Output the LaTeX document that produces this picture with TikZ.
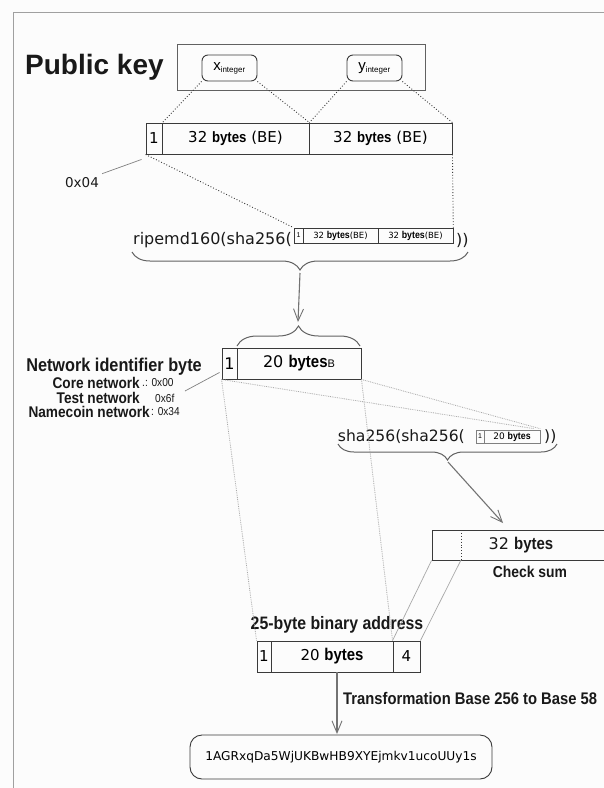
\documentclass[tikz,border=0pt]{standalone}
\usepackage{fontspec}
\setmainfont{DejaVu Sans}
\newfontfamily\lab[FakeStretch=0.88]{Liberation Sans}
\newfontfamily\arialf{Liberation Sans}
\usetikzlibrary{decorations.pathreplacing,arrows.meta,calc}
\newcommand\fsz[1]{\fontsize{#1}{#1}\selectfont}
\newcommand\byt{{\lab\bfseries bytes}}
\definecolor{boxc}{HTML}{3A3A3A}
\definecolor{lite}{HTML}{A8A8A8}
\definecolor{frame}{HTML}{A0A0A0}
\tikzset{
  cell/.style={draw=boxc, line width=0.9pt, inner sep=0pt, anchor=center, text=black},
  pill/.style={cell, rounded corners=6pt},
  dots/.style={draw=boxc, dotted, line width=0.9pt},
  litedots/.style={draw=lite, densely dotted, line width=0.8pt},
  liteline/.style={draw=lite, line width=0.7pt},
  leader/.style={draw=gray, line width=0.7pt},
  bracey/.style={draw=boxc!80, line width=1pt, decorate, decoration={brace, amplitude=#1}},
  arr/.style={draw=gray!90!black, line width=1.1pt, -{Straight Barb[length=12pt,width=10pt,line width=0.9pt]}},
  lbl/.style={inner sep=0pt, text=black!90},
}
\begin{document}
\begin{tikzpicture}[x=1pt,y=-1pt]
\fill[white!98!gray] (0,0) rectangle (604,788);
\useasboundingbox (0,0) rectangle (604,788);
\draw[frame, line width=1pt] (13,790) -- (13,12) -- (606,12);

% Public key
\node[lbl, anchor=west] (pktitle) at (25,67) {\arialf\bfseries\fsz{28}Public key};
\node[cell, minimum width=248, minimum height=46, draw=boxc!80] (pk) at (301,67) {};
\node[pill, minimum width=55, minimum height=26] (xint) at (229.5,68) {\arialf\fsz{15}x\textsubscript{\fsz{8}integer}};
\node[pill, minimum width=55, minimum height=26] (yint) at (374.5,68) {\arialf\fsz{15}y\textsubscript{\fsz{8}integer}};

% row of 65 bytes
\node[cell, minimum width=16, minimum height=31] (c1) at (154,138.5) {\fsz{15}1};
\node[cell, minimum width=147, minimum height=31] (c2) at (235.5,138.5) {\fsz{15}32 \byt{} (BE)};
\node[cell, minimum width=143, minimum height=31] (c3) at (380.5,138.5) {\fsz{15}32 \byt{} (BE)};

\draw[dots] (xint.south west) -- (c1.north east);
\draw[dots] (xint.south east) -- (c2.north east);
\draw[dots] (yint.south west) -- (c2.north east);
\draw[dots] (yint.south east) -- (c3.north east);

\node[lbl] (o4) at (82,183) {\fsz{13.5}0x04};
\draw[leader] ($(o4.north east)+(3,-4)$) -- ($(c1.south west)+(-4,5)$);

% ripemd160
\node[lbl, anchor=east] (rip) at (292,240) {\fsz{16}ripemd160(sha256(};
\node[cell, minimum width=9, minimum height=15, line width=0.6pt] (s1) at (298.5,235.5) {\arialf\fsz{7}1};
\node[cell, minimum width=75, minimum height=15, line width=0.6pt] (s2) at (340.5,235.5) {\fsz{8.5}32 {\lab\bfseries\fsz{10}bytes}(BE)};
\node[cell, minimum width=75, minimum height=15, line width=0.6pt] (s3) at (415.5,235.5) {\fsz{8.5}32 {\lab\bfseries\fsz{10}bytes}(BE)};
\node[lbl, anchor=west] (ripc) at (456,240) {\fsz{16}))};

\draw[dots] (c1.south west) -- (s1.north west);
\draw[dots] (c3.south east) -- (s3.north east);

\draw[bracey=18pt] (468,252) -- (132,252);
\coordinate (b1tip) at (300,273);

% 20-byte hash
\draw[bracey=20pt] (237,346) -- (360,346);
\coordinate (b2tip) at (298,322);
\draw[arr] (b1tip) -- (b2tip);

\node[cell, minimum width=15, minimum height=31] (n1) at (229.5,363.5) {\fsz{16}1};
\node[cell, minimum width=124, minimum height=31] (n2) at (299,363.5) {\fsz{16}20 {\lab\bfseries\fsz{17}bytes}{\arialf\fsz{11}B}};

% network identifier labels
\node[lbl] (netid) at (114,367) {\lab\bfseries\fsz{18.5}Network identifier byte};
\node[lbl, anchor=east] (core) at (140,383) {\lab\bfseries\fsz{15.5}Core network};
\node[lbl, anchor=west] (corev) at (142,383) {\lab\fsz{11.5}.: 0x00};
\node[lbl, anchor=east] (test) at (140,398) {\lab\bfseries\fsz{15.5}Test network};
\node[lbl, anchor=west] (testv) at (155,398) {\lab\fsz{11.5}0x6f};
\node[lbl, anchor=east] (namec) at (150,412) {\lab\bfseries\fsz{15.5}Namecoin network};
\node[lbl, anchor=west] (namecv) at (151,412) {\lab\fsz{11.5}: 0x34};
\coordinate (nl) at (185,391);
\draw[leader] (nl) -- ($(n1.south west)+(-2,-7)$);

% sha256 checksum
\node[lbl, anchor=east] (sha) at (465,437) {\fsz{15.6}sha256(sha256(};
\node[cell, minimum width=8, minimum height=13, line width=0.6pt, draw=gray] (sm1) at (480,436.5) {\arialf\fsz{7}1};
\node[cell, minimum width=56, minimum height=13, line width=0.6pt, draw=gray] (sm2) at (512,436.5) {\fsz{9}20 {\lab\bfseries\fsz{10}bytes}};
\node[lbl, anchor=west] (shac) at (544,437) {\fsz{15.6}))};

\draw[litedots] (n1.south west) -- ($(sm2.north east)+(-6,-1)$);
\draw[litedots] (n2.south east) -- ($(sm2.north east)+(0,-1)$);

\draw[bracey=16pt] (557,444) -- (338,444);
\coordinate (b3tip) at (448,462);

\node[cell, minimum width=173, minimum height=30] (ck) at (518.5,545) {};
\coordinate (ckd) at (461,530);
\coordinate (ckdb) at (461,560);
\draw[dots] (ckd) -- (ckdb);
\node[lbl] (ckt) at (521,545) {\fsz{16}32 {\lab\bfseries\fsz{17}bytes}};
\node[lbl] (cks) at (530,572) {\lab\bfseries\fsz{15.8}Check sum};
\draw[arr] (b3tip) -- (503,523);

% 25-byte address
\node[lbl] (addrt) at (337,625) {\lab\bfseries\fsz{18}25-byte binary address};
\node[cell, minimum width=14, minimum height=31] (a1) at (264,656.5) {\fsz{15}1};
\node[cell, minimum width=122, minimum height=31] (a2) at (332,656.5) {\fsz{15}20 {\lab\bfseries\fsz{17}bytes}};
\node[cell, minimum width=27, minimum height=31] (a3) at (406.5,656.5) {\fsz{15}4};

\draw[litedots] (n1.south west) -- (a1.north west);
\draw[litedots] (n2.south east) -- (a3.north west);
\draw[liteline] (ck.south west) -- (a3.north west);
\draw[liteline] (ckdb) -- (a3.north east);

\node[cell, rounded corners=12pt, minimum width=302, minimum height=44] (addr) at (341,757) {\fsz{12.2}1AGRxqDa5WjUKBwHB9XYEjmkv1ucoUUy1s};
\coordinate (ar1) at (337,672);
\coordinate (ar2) at (337,734);
\draw[arr] (ar1) -- (ar2);
\node[lbl, anchor=west] (trans) at (343,698) {\lab\bfseries\fsz{16.8}Transformation Base 256 to Base 58};
\end{tikzpicture}
\end{document}
